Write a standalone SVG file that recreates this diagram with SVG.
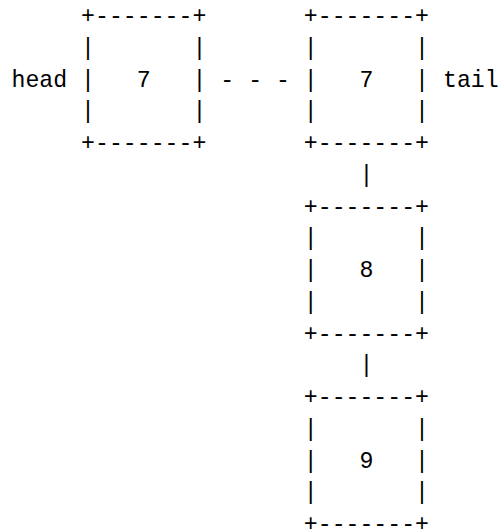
<svg xmlns="http://www.w3.org/2000/svg" width="499" height="531" viewBox="0 0 499 531">
<style>
text{font-family:"Liberation Mono","DejaVu Sans Mono",monospace;font-size:23.2px;fill:#000;white-space:pre}
</style>
<rect width="499" height="531" fill="#fff"/>
<g id="labels">
<text x="11.5" y="86.5">head</text>
<text x="443" y="86.5">tail</text>
</g>
<g id="connectors">
<text x="220.3" y="86.5">- - -</text>
<text x="359.5" y="181.8">|</text>
<text x="359.5" y="372.3">|</text>
</g>
<g id="node-head-7">
<text x="81.1" y="23">+-------+</text>
<text x="81.1" y="54.8">|       |</text>
<text x="81.1" y="86.5">|   7   |</text>
<text x="81.1" y="118.3">|       |</text>
<text x="81.1" y="150">+-------+</text>
</g>
<g id="node-tail-7">
<text x="303.8" y="23">+-------+</text>
<text x="303.8" y="54.8">|       |</text>
<text x="303.8" y="86.5">|   7   |</text>
<text x="303.8" y="118.3">|       |</text>
<text x="303.8" y="150">+-------+</text>
</g>
<g id="node-8">
<text x="303.8" y="213.5">+-------+</text>
<text x="303.8" y="245.3">|       |</text>
<text x="303.8" y="277">|   8   |</text>
<text x="303.8" y="308.8">|       |</text>
<text x="303.8" y="340.5">+-------+</text>
</g>
<g id="node-9">
<text x="303.8" y="404">+-------+</text>
<text x="303.8" y="435.8">|       |</text>
<text x="303.8" y="467.5">|   9   |</text>
<text x="303.8" y="499.3">|       |</text>
<text x="303.8" y="531">+-------+</text>
</g>
</svg>
